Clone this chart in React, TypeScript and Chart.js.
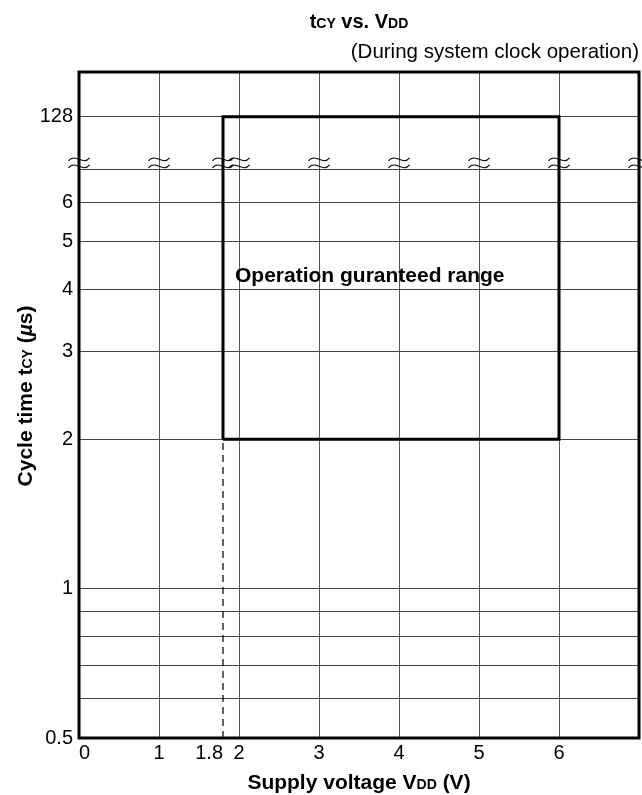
import React, { useEffect, useRef } from 'react';
import { Chart, registerables } from 'chart.js';

Chart.register(...registerables);

// ---------- data ----------
const X_TICK_VALUES = [0, 1, 1.8, 2, 3, 4, 5, 6, 7];
const X_TICK_LABELS = ['\u00a0\u00a00', '1', '1.8\u00a0\u00a0\u00a0\u00a0\u00a0', '2', '3', '4', '5', '6', ''];
const Y_TICK_VALUES = [0.5, 0.6, 0.7, 0.8, 0.9, 1, 2, 3, 4, 5, 6, 7, 128];
const Y_TICK_LABELS = ['0.5', '', '', '', '', '1', '2', '3', '4', '5', '6', '', '128'];
const BREAK_X = [0, 1, 1.8, 2, 3, 4, 5, 6, 7];

const RANGE_VDD = [1.8, 6]; // guaranteed supply voltage range (V)
const RANGE_TCY = [2, 128]; // guaranteed cycle time range (µs)
const DASH_VDD = [1.8, 1.8];
const DASH_TCY = [0.5, 2];

const BREAK_LOW = 7; // last value below the axis break
const BREAK_HIGH = 128; // first value above the axis break
const BREAK_GAP = 0.35; // log2 units taken by the break

const RANGE_LABEL = 'Operation guranteed range';
const RANGE_LABEL_AT = { x: 1.95, y: 4.25 };

// log2 axis with a break between 7 and 128
const ty = (v: number) =>
  v <= BREAK_LOW ? Math.log2(v) : Math.log2(BREAK_LOW) + BREAK_GAP + Math.log2(v / BREAK_HIGH);

const FAMILY = '"Liberation Sans", Arial, Helvetica, sans-serif';

type Seg = { t: string; f: string };

function drawRich(ctx: CanvasRenderingContext2D, segs: Seg[], x: number, y: number, align: 'left' | 'center' | 'right') {
  let total = 0;
  const widths = segs.map((s) => {
    ctx.font = s.f;
    const w = ctx.measureText(s.t).width;
    total += w;
    return w;
  });
  let cx = align === 'left' ? x : align === 'center' ? x - total / 2 : x - total;
  ctx.textAlign = 'left';
  ctx.textBaseline = 'alphabetic';
  segs.forEach((s, i) => {
    ctx.font = s.f;
    ctx.fillText(s.t, cx, y);
    cx += widths[i];
  });
}

const decorations = {
  id: 'decorations',
  afterDatasetsDraw(chart: any) {
    const ctx: CanvasRenderingContext2D = chart.ctx;
    const { left, right, top, bottom } = chart.chartArea;
    const xs = chart.scales.x;
    const ys = chart.scales.y;
    ctx.save();
    ctx.fillStyle = '#000';
    ctx.strokeStyle = '#000';

    // frame
    ctx.lineWidth = 3;
    ctx.strokeRect(left, top, right - left, bottom - top);

    // break marks
    ctx.lineWidth = 1.1;
    const by = ys.getPixelForValue(ty(BREAK_LOW) + BREAK_GAP * 0.12);
    BREAK_X.forEach((v) => {
      const cx = xs.getPixelForValue(v);
      [-3.5, 3.5].forEach((d) => {
        const cy = by + d;
        ctx.beginPath();
        ctx.moveTo(cx - 10.5, cy + 1.5);
        ctx.bezierCurveTo(cx - 4, cy - 7, cx + 4, cy + 7, cx + 10.5, cy - 1.5);
        ctx.stroke();
      });
    });

    // range label
    ctx.font = `bold 21px ${FAMILY}`;
    ctx.textAlign = 'left';
    ctx.textBaseline = 'middle';
    ctx.fillText(RANGE_LABEL, xs.getPixelForValue(RANGE_LABEL_AT.x), ys.getPixelForValue(ty(RANGE_LABEL_AT.y)));

    const B = `bold 21px ${FAMILY}`;
    const BS = `bold 14px ${FAMILY}`;
    const cxPlot = (left + right) / 2;

    // title
    drawRich(ctx, [
      { t: 't', f: `bold 20px ${FAMILY}` },
      { t: 'CY', f: `bold 14px ${FAMILY}` },
      { t: ' vs. V', f: `bold 20px ${FAMILY}` },
      { t: 'DD', f: `bold 14px ${FAMILY}` },
    ], cxPlot, 28, 'center');

    // subtitle
    drawRich(ctx, [{ t: '(During system clock operation)', f: `20.5px ${FAMILY}` }], right, 58, 'right');

    // x title
    drawRich(ctx, [
      { t: 'Supply voltage V', f: B },
      { t: 'DD', f: BS },
      { t: ' (V)', f: B },
    ], cxPlot, 789, 'center');

    // y title
    ctx.translate(32, (top + bottom) / 2 - 9);
    ctx.rotate(-Math.PI / 2);
    drawRich(ctx, [
      { t: 'Cycle time t', f: B },
      { t: 'CY', f: BS },
      { t: ' (', f: B },
      { t: '\u00b5', f: `italic bold 21px ${FAMILY}` },
      { t: 's)', f: B },
    ], 0, 0, 'center');

    ctx.restore();
  },
};

export default function App() {
  const ref = useRef<HTMLCanvasElement>(null);

  useEffect(() => {
    const canvas = ref.current;
    if (!canvas) return;
    const rectPoints = [
      { x: RANGE_VDD[0], y: ty(RANGE_TCY[0]) },
      { x: RANGE_VDD[0], y: ty(RANGE_TCY[1]) },
      { x: RANGE_VDD[1], y: ty(RANGE_TCY[1]) },
      { x: RANGE_VDD[1], y: ty(RANGE_TCY[0]) },
      { x: RANGE_VDD[0], y: ty(RANGE_TCY[0]) },
    ];
    const dashPoints = DASH_VDD.map((x, i) => ({ x, y: ty(DASH_TCY[i]) }));
    const tickFont = { family: FAMILY, size: 20 };

    const chart = new Chart(canvas, {
      type: 'line',
      data: {
        datasets: [
          {
            data: rectPoints,
            borderColor: '#000',
            borderWidth: 3,
            pointRadius: 0,
            fill: false,
            tension: 0,
            borderJoinStyle: 'miter',
          },
          {
            data: dashPoints,
            borderColor: '#000',
            borderWidth: 1.2,
            borderDash: [7, 5],
            pointRadius: 0,
            fill: false,
          },
        ],
      },
      options: {
        responsive: false,
        animation: false,
        devicePixelRatio: 1,
        layout: { padding: { top: 72, right: 3, left: 0, bottom: 0 } },
        plugins: {
          legend: { display: false },
          tooltip: { enabled: false },
          title: { display: false },
        },
        scales: {
          x: {
            type: 'linear',
            min: 0,
            max: 7,
            afterBuildTicks: (s: any) => {
              s.ticks = X_TICK_VALUES.map((v) => ({ value: v }));
            },
            afterFit: (s: any) => {
              s.height = 57;
            },
            ticks: {
              callback: (_v: any, i: number) => X_TICK_LABELS[i],
              font: tickFont,
              color: '#000',
              padding: 3,
              maxRotation: 0,
              autoSkip: false,
            },
            grid: {
              color: (c: any) => (c.tick && c.tick.value === 1.8 ? 'rgba(0,0,0,0)' : '#555'),
              lineWidth: 1,
              drawTicks: false,
            },
            border: { display: false },
          },
          y: {
            type: 'linear',
            min: ty(0.5),
            max: ty(BREAK_HIGH) + 0.3,
            afterBuildTicks: (s: any) => {
              s.ticks = Y_TICK_VALUES.map((v) => ({ value: ty(v) }));
            },
            afterFit: (s: any) => {
              s.width = 79;
            },
            ticks: {
              callback: (_v: any, i: number) => Y_TICK_LABELS[i],
              font: tickFont,
              color: '#000',
              padding: 6,
              autoSkip: false,
            },
            grid: { color: '#444', lineWidth: 1, drawTicks: false },
            border: { display: false },
          },
        },
      },
      plugins: [decorations],
    } as any);
    return () => chart.destroy();
  }, []);

  return (
    <div style={{ position: 'fixed', left: 0, top: 0, width: 642, height: 795, background: '#fff', overflow: 'hidden' }}>
      <canvas ref={ref} width={642} height={795} style={{ display: 'block' }} />
    </div>
  );
}
